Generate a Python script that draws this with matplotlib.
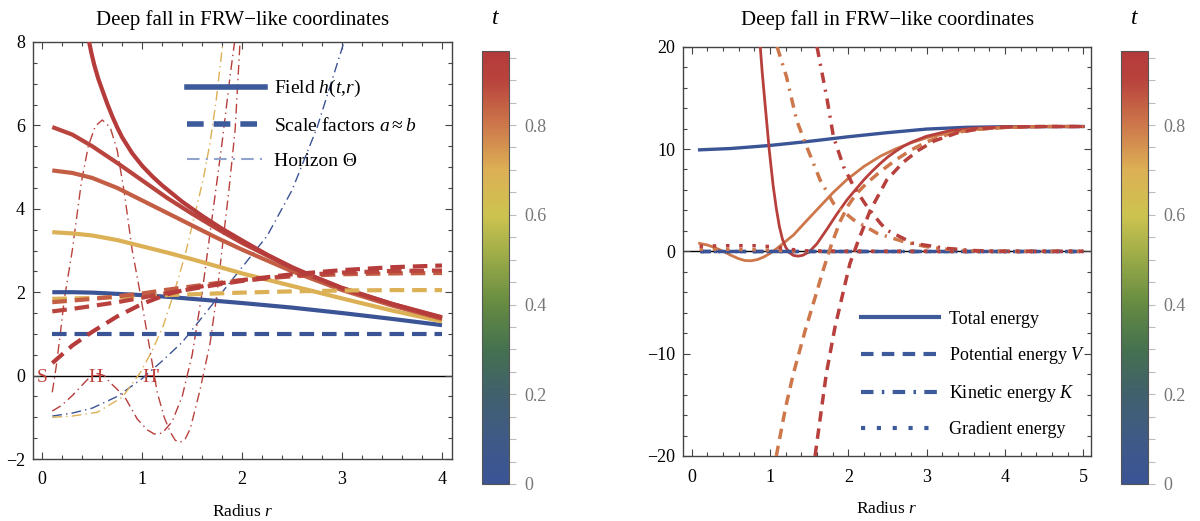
import numpy as np
import matplotlib as mpl
import matplotlib.pyplot as plt
from matplotlib.colors import LinearSegmentedColormap, Normalize
from matplotlib.lines import Line2D
from matplotlib.ticker import MultipleLocator, FuncFormatter

plt.rcParams['font.family'] = ['Liberation Serif', 'DejaVu Serif']
plt.rcParams['mathtext.fontset'] = 'custom'
plt.rcParams['mathtext.rm'] = 'Liberation Serif'
plt.rcParams['mathtext.it'] = 'Liberation Serif:italic'
plt.rcParams['mathtext.bf'] = 'Liberation Serif:bold'

# ---- colour scale (t), colours at these t values ----
t_max = 0.965
cmap_t = [0.0, 0.1, 0.2, 0.3, 0.4, 0.5, 0.6, 0.7, 0.8, 0.9, 0.965]
cmap_colors = ["#3b5496", "#3f5a86", "#41606c", "#45714f", "#658b42", "#98a947",
               "#cdc350", "#dcb055", "#cd784b", "#b9433d", "#b43a3a"]
cbar_ticks = [0.0, 0.2, 0.4, 0.6, 0.8]

# ---- left panel: field h, scale factors a, horizon Theta ----
h_t = [0.0, 0.7, 0.85, 0.9, 0.95]
h_r = [
    [0.1, 0.3, 0.5, 0.75, 1.0, 1.25, 1.5, 1.75, 2.0, 2.5, 3.0, 3.5, 4.0],
    [0.1, 0.3, 0.5, 0.75, 1.0, 1.25, 1.5, 1.75, 2.0, 2.5, 3.0, 3.5, 4.0],
    [0.1, 0.3, 0.5, 0.75, 1.0, 1.25, 1.5, 1.75, 2.0, 2.5, 3.0, 3.5, 4.0],
    [0.1, 0.3, 0.5, 0.75, 1.0, 1.25, 1.5, 1.75, 2.0, 2.5, 3.0, 3.5, 4.0],
    [0.46, 0.49, 0.52, 0.56, 0.6, 0.65, 0.7, 0.75, 0.8, 0.9, 1.0, 1.1, 1.2, 1.4, 1.6,
     1.8, 2.0, 2.25, 2.5, 2.75, 3.0, 3.5, 4.0],
]
h_vals = [
    [2.0, 2.0, 1.99, 1.96, 1.93, 1.89, 1.84, 1.79, 1.74, 1.63, 1.5, 1.36, 1.21],
    [3.44, 3.41, 3.36, 3.25, 3.1, 2.95, 2.79, 2.62, 2.45, 2.15, 1.85, 1.56, 1.3],
    [4.92, 4.86, 4.74, 4.5, 4.2, 3.9, 3.6, 3.3, 3.02, 2.5, 2.05, 1.68, 1.36],
    [5.96, 5.78, 5.5, 5.1, 4.68, 4.26, 3.88, 3.52, 3.18, 2.58, 2.1, 1.72, 1.38],
    [8.1, 7.75, 7.45, 7.12, 6.85, 6.52, 6.22, 5.95, 5.71, 5.33, 5.03, 4.78, 4.56, 4.17,
     3.83, 3.52, 3.24, 2.9, 2.6, 2.34, 2.1, 1.72, 1.4],
]

a_r = [0.1, 0.3, 0.5, 0.75, 1.0, 1.25, 1.5, 1.75, 2.0, 2.5, 3.0, 3.5, 4.0]
a_t = [0.0, 0.7, 0.85, 0.9, 0.95]
a_vals = [
    [1.0, 1.0, 1.0, 1.0, 1.0, 1.0, 1.0, 1.0, 1.0, 1.0, 1.0, 1.0, 1.0],
    [1.84, 1.85, 1.86, 1.88, 1.9, 1.93, 1.95, 1.97, 1.99, 2.02, 2.04, 2.05, 2.05],
    [1.76, 1.8, 1.84, 1.9, 1.97, 2.06, 2.14, 2.22, 2.29, 2.38, 2.43, 2.45, 2.46],
    [1.54, 1.6, 1.67, 1.76, 1.87, 1.98, 2.08, 2.18, 2.27, 2.4, 2.47, 2.51, 2.52],
    [0.3, 0.72, 1.05, 1.42, 1.72, 1.95, 2.1, 2.2, 2.29, 2.43, 2.53, 2.6, 2.64],
]

theta_t = [0.0, 0.7, 0.9, 0.95]
theta_r = [
    [0.1, 0.3, 0.5, 0.75, 1.0, 1.2, 1.4, 1.6, 1.8, 2.0, 2.25, 2.5, 2.75, 3.0, 3.03],
    [0.1, 0.3, 0.55, 0.8, 0.98, 1.1, 1.21, 1.32, 1.43, 1.52, 1.61, 1.68, 1.74, 1.81],
    [0.1, 0.14, 0.18, 0.22, 0.3, 0.39, 0.46, 0.53, 0.6, 0.68, 0.75, 0.82, 0.9, 0.97, 1.05,
     1.15, 1.22, 1.28, 1.33, 1.38, 1.43, 1.48, 1.58, 1.68, 1.75, 1.81, 1.87, 1.93, 1.98],
    [0.1, 0.19, 0.3, 0.39, 0.47, 0.55, 0.62, 0.68, 0.82, 0.95, 1.05, 1.12, 1.2, 1.3, 1.4,
     1.5, 1.6, 1.7, 1.8, 1.88, 1.93],
]
theta_vals = [
    [-0.97, -0.9, -0.78, -0.5, -0.07, 0.35, 0.8, 1.4, 2.0, 2.6, 3.35, 4.45, 5.95, 7.85, 8.1],
    [-1.0, -0.97, -0.88, -0.52, 0.07, 0.6, 1.19, 2.0, 2.9, 3.8, 4.7, 5.6, 6.6, 8.05],
    [-0.4, 0.23, 1.0, 1.83, 3.0, 4.62, 5.5, 5.98, 6.13, 5.95, 5.4, 4.4, 3.0, 2.1, 1.0,
     -0.4, -1.0, -1.35, -1.55, -1.6, -1.52, -1.28, -0.33, 0.79, 2.0, 3.26, 4.5, 5.9, 8.05],
    [-0.85, -0.72, -0.48, -0.25, -0.05, 0.05, 0.0, -0.17, -0.49, -1.04, -1.3, -1.4, -1.38,
     -1.1, -0.5, 0.5, 2.0, 3.8, 5.6, 7.2, 8.1],
]

marker_names = ["S", "H", "H'"]
marker_r = [0.0, 0.53, 1.09]

# ---- right panel: energies ----
e_t = [0.0, 0.8, 0.92]
total_r = [
    [0.1, 0.5, 1.0, 1.5, 2.0, 2.5, 3.0, 3.5, 4.0, 5.0],
    [0.1, 0.2, 0.3, 0.4, 0.5, 0.6, 0.68, 0.76, 0.84, 0.92, 1.0, 1.1, 1.2, 1.3, 1.45, 1.64,
     1.8, 1.98, 2.2, 2.41, 2.6, 2.8, 3.0, 3.3, 3.6, 4.0, 4.5, 5.0],
    [0.87, 0.9, 0.94, 0.99, 1.04, 1.08, 1.12, 1.16, 1.2, 1.25, 1.3, 1.36, 1.42, 1.5, 1.6,
     1.73, 1.85, 1.98, 2.1, 2.2, 2.3, 2.41, 2.5, 2.6, 2.7, 2.8, 3.0, 3.3, 3.6, 4.0, 4.5, 5.0],
]
total_vals = [
    [9.92, 10.05, 10.35, 10.75, 11.2, 11.6, 11.95, 12.12, 12.18, 12.2],
    [0.78, 0.62, 0.35, 0.0, -0.38, -0.72, -0.9, -0.92, -0.8, -0.55, -0.2, 0.35, 0.98, 1.6,
     2.85, 4.4, 5.7, 7.0, 8.3, 9.3, 10.0, 10.6, 11.1, 11.6, 11.9, 12.12, 12.2, 12.2],
    [20.5, 17.5, 14.1, 9.9, 6.4, 4.2, 2.4, 1.15, 0.4, -0.15, -0.4, -0.47, -0.38, -0.05, 0.75,
     2.2, 3.6, 5.0, 6.1, 7.0, 7.8, 8.6, 9.2, 9.75, 10.25, 10.65, 11.25, 11.8, 12.02, 12.15,
     12.2, 12.2],
]

pot_r = [
    [0.1, 5.0],
    [1.08, 1.2, 1.3, 1.45, 1.58, 1.68, 1.79, 1.9, 2.0, 2.1, 2.24, 2.41, 2.6, 2.8, 3.0, 3.3,
     3.6, 4.0, 4.5, 5.0],
    [1.575, 1.65, 1.72, 1.83, 1.94, 2.02, 2.13, 2.28, 2.49, 2.7, 2.9, 3.1, 3.4, 3.7, 4.0,
     4.5, 5.0],
]
pot_vals = [
    [0.0, 0.0],
    [-20, -15.2, -11.9, -7.7, -4.4, -1.8, 0.8, 3.0, 4.5, 5.6, 6.7, 7.8, 8.9, 9.9, 10.7, 11.5,
     11.9, 12.1, 12.2, 12.2],
    [-20, -15.8, -11.9, -7.4, -3.8, -1.2, 1.1, 4.0, 6.97, 8.7, 9.9, 10.8, 11.6, 12.0, 12.15,
     12.2, 12.2],
]

kin_r = [
    [0.1, 5.0],
    [1.09, 1.21, 1.34, 1.47, 1.64, 1.81, 2.07, 2.37, 2.71, 3.0, 3.26, 3.6, 4.0, 5.0],
    [1.6, 1.73, 1.81, 1.94, 2.07, 2.24, 2.41, 2.49, 2.83, 3.26, 3.6, 4.0, 5.0],
]
kin_vals = [
    [0.0, 0.0],
    [20, 17.07, 12.8, 10.2, 6.97, 4.69, 3.06, 1.76, 0.94, 0.45, 0.2, 0.05, 0.0, 0.0],
    [20, 14.8, 11.2, 8.27, 6.32, 4.36, 2.74, 2.08, 0.78, 0.29, 0.08, 0.0, 0.0],
]

grad_r = [
    [0.1, 5.0],
    [0.1, 0.5, 0.9, 1.2, 1.5, 2.0, 5.0],
    [0.1, 0.4, 0.8, 1.05, 1.25, 1.45, 2.0, 5.0],
]
grad_vals = [
    [0.0, 0.0],
    [0.2, 0.2, 0.15, 0.05, 0.0, 0.0, 0.0],
    [0.5, 0.55, 0.55, 0.45, 0.2, 0.05, 0.0, 0.0],
]

title_text = "Deep fall in FRW\u2212like coordinates"
legend_blue = "#3d5a9a"
marker_red = "#c0403c"

W, H = 1200, 521
cmap = LinearSegmentedColormap.from_list(
    "tmap", list(zip([t / t_max for t in cmap_t], cmap_colors)))
norm = Normalize(0.0, t_max)


def px_rect(x0, y0, x1, y1):
    # pixel box (top-left origin) -> figure fraction rect
    return [x0 / W, 1 - y1 / H, (x1 - x0) / W, (y1 - y0) / H]


def frame(ax, xmaj, xmin, ymaj, ymin, title_pad):
    ax.xaxis.set_major_locator(MultipleLocator(xmaj))
    ax.xaxis.set_minor_locator(MultipleLocator(xmin))
    ax.yaxis.set_major_locator(MultipleLocator(ymaj))
    ax.yaxis.set_minor_locator(MultipleLocator(ymin))
    ax.tick_params(which='both', direction='in', top=True, right=True,
                   color='#444444', width=0.8, labelsize=13)
    ax.tick_params(axis='x', pad=9)
    ax.tick_params(axis='y', pad=6)
    ax.tick_params(which='major', length=5)
    ax.tick_params(which='minor', length=3)
    for s in ax.spines.values():
        s.set_color('#444444')
        s.set_linewidth(1.0)
    ax.axhline(0, color='black', lw=1.0, zorder=1)
    ax.set_xlabel("Radius $r$", fontsize=12.5, labelpad=11)
    ax.set_title(title_text, fontsize=15, pad=title_pad)


def colorbar(cax):
    cb = mpl.colorbar.ColorbarBase(cax, cmap=cmap, norm=norm)
    cb.set_ticks(cbar_ticks)
    cax.yaxis.set_minor_locator(MultipleLocator(0.05))
    cax.yaxis.set_major_formatter(FuncFormatter(lambda v, p: "0" if v == 0 else "%g" % v))
    cax.tick_params(which='both', colors='#bbbbbb', labelcolor='#777777', labelsize=13,
                    direction='out', width=0.8, length=5, pad=6)
    cb.outline.set_edgecolor('#555555')
    cb.outline.set_linewidth(0.8)
    cax.text(0.5, 1.0 + 33.0 / 433, "$t$", transform=cax.transAxes, ha='center',
             va='center', fontsize=17)


fig = plt.figure(figsize=(12, 5.21), dpi=100)

# ---------------- left panel ----------------
ax1 = fig.add_axes(px_rect(33.3, 42, 452, 459))
for t, r, v in zip(h_t, h_r, h_vals):
    ax1.plot(r, v, color=cmap(norm(t)), lw=3.0, solid_capstyle='butt', zorder=3)
for t, v in zip(a_t, a_vals):
    ax1.plot(a_r, v, color=cmap(norm(t)), lw=3.0, dashes=(3.5, 1.9), zorder=3)
for t, r, v in zip(theta_t, theta_r, theta_vals):
    ax1.plot(r, v, color=cmap(norm(t)), lw=1.0, dashes=(7, 3, 1, 3), zorder=2)
for name, r in zip(marker_names, marker_r):
    ax1.text(r, -0.05, name, color=marker_red, ha='center', va='center', fontsize=14, zorder=4)
ax1.set_xlim(-0.09, 4.1)
ax1.set_ylim(-2, 8)
frame(ax1, 1, 0.2, 2, 0.5, 12)
h1 = [Line2D([], [], color=legend_blue, lw=4),
      Line2D([], [], color=legend_blue, lw=4, dashes=(3, 1.8)),
      Line2D([], [], color='#8fa3cc', lw=1.5, dashes=(6, 3, 1, 3))]
ax1.legend(h1, ["Field $h(t{,}r)$", "Scale factors $a \\approx b$", "Horizon \u0398"],
           loc='upper left', bbox_to_anchor=(0.367, 0.913), frameon=False, fontsize=14,
           handlelength=4.0, handletextpad=0.5, labelspacing=0.9, borderpad=0, borderaxespad=0)

cax1 = fig.add_axes(px_rect(482, 51, 509, 484))
colorbar(cax1)

# ---------------- right panel ----------------
ax2 = fig.add_axes(px_rect(683.3, 46.7, 1091, 456))
for t, r, v in zip(e_t, total_r, total_vals):
    ax2.plot(r, v, color=cmap(norm(t)), lw=2.4 if t == 0 else 2.0, zorder=3)
for t, r, v in zip(e_t, pot_r, pot_vals):
    ax2.plot(r, v, color=cmap(norm(t)), lw=2.5, dashes=(3, 2), zorder=3)
for t, r, v in zip(e_t, kin_r, kin_vals):
    ax2.plot(r, v, color=cmap(norm(t)), lw=2.5, dashes=(3, 2, 0.6, 2), zorder=3)
for t, r, v in zip(e_t, grad_r, grad_vals):
    ax2.plot(r, v, color=cmap(norm(t)), lw=2.5, dashes=(1, 2.8), zorder=3)
ax2.set_xlim(-0.108, 5.1)
ax2.set_ylim(-20, 20)
frame(ax2, 1, 0.2, 10, 2, 15.5)
h2 = [Line2D([], [], color=legend_blue, lw=3),
      Line2D([], [], color=legend_blue, lw=3, dashes=(3, 2)),
      Line2D([], [], color=legend_blue, lw=3, dashes=(3, 2, 0.6, 2)),
      Line2D([], [], color=legend_blue, lw=3, dashes=(1, 2.8))]
ax2.legend(h2, ["Total energy", "Potential energy $V$", "Kinetic energy $K$", "Gradient energy"],
           loc='upper left', bbox_to_anchor=(0.436, 0.355), frameon=False, fontsize=13,
           handlelength=4.3, handletextpad=0.55, labelspacing=0.95, borderpad=0, borderaxespad=0)

cax2 = fig.add_axes(px_rect(1121, 51, 1148, 484))
colorbar(cax2)

fig.savefig("out.png", dpi=100)
